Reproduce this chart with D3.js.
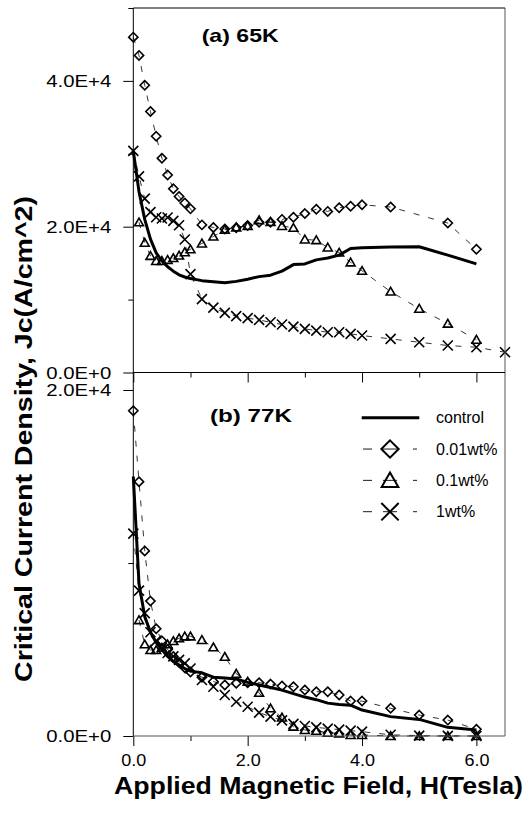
<!DOCTYPE html>
<html>
<head>
<meta charset="utf-8">
<script src="https://cdn.jsdelivr.net/npm/d3@7"></script>
<style>
  html, body { margin: 0; padding: 0; background: #fff; }
  svg { display: block; }
  text { font-family: "Liberation Sans", Arial, Helvetica, sans-serif; fill: #000; }
</style>
</head>
<body>
<svg id="chart" width="526" height="814"></svg>
<script>
// ---------------- DATA ----------------
const fields   = [0,0.1,0.2,0.3,0.4,0.5,0.6,0.7,0.8,0.9,1.0,1.2,1.4,1.6,1.8,2.0,2.2,2.4,2.6,2.8,3.0,3.2,3.4,3.6,3.8,4.0,4.5,5.0,5.5,6.0];
const fieldsX65 = [0,0.1,0.2,0.3,0.4,0.5,0.6,0.7,0.8,0.9,1.0,1.2,1.4,1.6,1.8,2.0,2.2,2.4,2.6,2.8,3.0,3.2,3.4,3.6,3.8,4.0,4.5,5.0,5.5,6.0,6.5];

// (a) 65K
const control65 = [30400,24800,21000,18300,16400,15300,14500,13900,13400,13100,12900,12600,12450,12300,12500,12800,13150,13350,13900,14800,14900,15450,15700,16100,17000,17100,17200,17250,16100,14900];
const dia65     = [46000,43500,39400,35800,32400,29400,27100,25200,24150,23250,22450,20250,19900,19700,19850,20150,20600,20600,21000,21300,21800,22400,22100,22600,22800,23000,22700,null,20500,16900];
const tri65     = [null,20600,17800,16000,15300,15300,15450,15700,16050,16500,16900,17700,18650,19600,19900,20100,20900,20650,20100,19850,18250,18150,17150,16450,15100,13950,11100,8750,6700,4500];
const x65       = [30400,26900,23850,22000,21300,21120,21260,20800,20200,18240,13500,10070,8900,8180,7740,7450,7210,6890,6580,6300,5980,5750,5520,5520,5300,5070,4610,4150,3700,3470,2780];

// (b) 77K
const control77 = [15000,8800,6900,6000,5400,5000,4600,4300,4100,3900,3750,3650,3400,3350,3300,3100,2950,2800,2650,2450,2250,2100,1900,1820,1780,1500,1120,960,500,350];
const dia77     = [18800,14700,10700,7800,6200,5500,5000,4600,4250,3950,3700,3400,3150,2950,3050,3080,3080,3000,2890,2850,2660,2560,2560,2370,2020,2020,1600,1210,920,390];
const tri77     = [null,6700,5300,4970,4970,5100,5300,5490,5650,5760,5760,5550,5130,4580,3600,3140,2500,1600,1070,540,350,300,190,150,60,60,0,0,0,0];
const x77       = [11700,8400,7100,6000,5500,5100,4800,4600,4400,4200,3900,3240,2850,2370,1980,1690,1350,1120,900,700,580,500,430,370,310,250,70,20,10,0];

const legendLabels = ["control","0.01wt%","0.1wt%","1wt%"];
const xTicks = [0,1,2,3,4,5,6];
const yTicksA = [0,10000,20000,30000,40000,50000];
const yTicksB = [0,10000,20000];

// ---------------- LAYOUT ----------------
const svg = d3.select("#chart");
const X0 = 133.3, X1 = 505;
const x = d3.scaleLinear().domain([0, 6.5]).range([X0, X1]);
const yA = d3.scaleLinear().domain([0, 50000]).range([372.5, 8]);
const yB = d3.scaleLinear().domain([0, 20000]).range([736, 390]);

// custom symbols
const symDiamond = { draw(ctx, size) { const r = Math.sqrt(size) / 2; ctx.moveTo(0, -r); ctx.lineTo(r, 0); ctx.lineTo(0, r); ctx.lineTo(-r, 0); ctx.closePath(); } };
const symTriangle = { draw(ctx, size) { const h = Math.sqrt(size); const w = h * 1.15; ctx.moveTo(0, -h * 0.55); ctx.lineTo(w / 2, h * 0.45); ctx.lineTo(-w / 2, h * 0.45); ctx.closePath(); } };
const symX = { draw(ctx, size) { const r = Math.sqrt(size) / 2; ctx.moveTo(-r, -r); ctx.lineTo(r, r); ctx.moveTo(r, -r); ctx.lineTo(-r, r); } };

function pairs(xs, ys) {
  return xs.map((v, i) => [v, ys[i]]).filter(d => d[1] !== null && d[1] !== undefined);
}

function drawPanel(y, series) {
  const g = svg.append("g");
  const line = d3.line().x(d => x(d[0])).y(d => y(d[1]));
  series.forEach(s => {
    const pts = pairs(s.xs, s.ys);
    if (s.type === "control") {
      g.append("path").attr("d", line(pts)).attr("fill", "none")
        .attr("stroke", "#000").attr("stroke-width", 3).attr("stroke-linejoin", "round");
    } else {
      g.append("path").attr("d", line(pts)).attr("fill", "none")
        .attr("stroke", "#000").attr("stroke-width", 0.8).attr("stroke-dasharray", "6,9");
      g.selectAll(null).data(pts).enter().append("path")
        .attr("transform", d => `translate(${x(d[0])},${y(d[1])})`)
        .attr("d", d3.symbol().type(s.sym).size(s.size)())
        .attr("fill", "none").attr("stroke", "#000").attr("stroke-width", 1.6);
    }
  });
}

drawPanel(yA, [
  { type: "control", xs: fields, ys: control65 },
  { type: "m", xs: fields, ys: dia65, sym: symDiamond, size: 85 },
  { type: "m", xs: fields, ys: tri65, sym: symTriangle, size: 60 },
  { type: "m", xs: fieldsX65, ys: x65, sym: symX, size: 100 }
]);
drawPanel(yB, [
  { type: "control", xs: fields, ys: control77 },
  { type: "m", xs: fields, ys: dia77, sym: symDiamond, size: 85 },
  { type: "m", xs: fields, ys: tri77, sym: symTriangle, size: 60 },
  { type: "m", xs: fields, ys: x77, sym: symX, size: 100 }
]);

// ---------------- AXES ----------------
const fmtY = d => d === 0 ? "0.0E+0" : (d / 10000).toFixed(1) + "E+4";
function yAxis(scale, ticks, labelled) {
  const ax = svg.append("g").attr("transform", `translate(${X0},0)`)
    .call(d3.axisLeft(scale).tickValues(ticks).tickSize(10).tickSizeOuter(0)
      .tickFormat(d => labelled.includes(d) ? fmtY(d) : ""));
  ax.select(".domain").remove();
  ax.selectAll(".tick line").attr("stroke", "#000")
    .attr("x2", d => labelled.includes(d) ? -10 : -5);
  ax.selectAll(".tick text").attr("x", -22).attr("font-size", 16)
    .attr("font-family", "Liberation Sans, Arial, sans-serif")
    .attr("textLength", 65).attr("lengthAdjust", "spacingAndGlyphs")
    .attr("dy", "0.36em");
  return ax;
}
yAxis(yA, yTicksA, [0, 20000, 40000]);
yAxis(yB, yTicksB, [0, 20000]);

function xAxis(yPos, labels) {
  const ax = svg.append("g").attr("transform", `translate(0,${yPos})`)
    .call(d3.axisBottom(x).tickValues(xTicks).tickSize(10).tickSizeOuter(0)
      .tickFormat(d => labels && d % 2 === 0 ? d3.format(".1f")(d) : ""));
  ax.select(".domain").remove();
  ax.selectAll(".tick line").attr("stroke", "#000")
    .attr("y2", d => d % 2 === 0 ? 10 : 5);
  ax.selectAll(".tick text").attr("y", 30).attr("dy", 0).attr("font-size", 16)
    .attr("font-family", "Liberation Sans, Arial, sans-serif")
    .attr("textLength", 25).attr("lengthAdjust", "spacingAndGlyphs");
  return ax;
}
xAxis(yA(0), false);
xAxis(yB(0), true);

// frame lines
svg.append("line").attr("x1", X0).attr("x2", X0).attr("y1", yA(50000)).attr("y2", yB(0)).attr("stroke", "#000").attr("stroke-width", 1);
svg.append("line").attr("x1", X1).attr("x2", X1).attr("y1", yA(50000)).attr("y2", yB(0)).attr("stroke", "#555").attr("stroke-width", 1);
svg.append("line").attr("x1", X0).attr("x2", X1).attr("y1", yA(50000)).attr("y2", yA(50000)).attr("stroke", "#000").attr("stroke-width", 1);
svg.append("line").attr("x1", X0).attr("x2", X1).attr("y1", yA(0)).attr("y2", yA(0)).attr("stroke", "#000").attr("stroke-width", 1);
svg.append("line").attr("x1", X0).attr("x2", X1).attr("y1", yB(0)).attr("y2", yB(0)).attr("stroke", "#555").attr("stroke-width", 1);

// ---------------- TEXTS ----------------
svg.append("text").attr("x", 201.7).attr("y", 41.7).attr("font-size", 19).attr("font-weight", "bold")
  .attr("textLength", 77).attr("lengthAdjust", "spacingAndGlyphs").text("(a) 65K");
svg.append("text").attr("x", 210).attr("y", 421.7).attr("font-size", 19).attr("font-weight", "bold")
  .attr("textLength", 82).attr("lengthAdjust", "spacingAndGlyphs").text("(b) 77K");

svg.append("text").attr("x", 318.5).attr("y", 794).attr("text-anchor", "middle")
  .attr("font-size", 23).attr("font-weight", "bold")
  .attr("textLength", 409).attr("lengthAdjust", "spacingAndGlyphs")
  .text("Applied Magnetic Field, H(Tesla)");

svg.append("text").attr("transform", "translate(32,439) rotate(-90)").attr("text-anchor", "middle")
  .attr("font-size", 23).attr("font-weight", "bold")
  .attr("textLength", 486).attr("lengthAdjust", "spacingAndGlyphs")
  .text("Critical Current Density, Jc(A/cm^2)");

// ---------------- LEGEND ----------------
const legY = d3.scaleLinear().domain([0, 3]).range([417.7, 511.7]);
const legSyms = [null, symDiamond, symTriangle, symX];
const legSizes = [0, 300, 210, 300];
const leg = svg.append("g");
legendLabels.forEach((lab, i) => {
  const yy = legY(i);
  if (i === 0) {
    leg.append("line").attr("x1", 361.7).attr("x2", 419.3).attr("y1", yy).attr("y2", yy)
      .attr("stroke", "#000").attr("stroke-width", 3);
  } else {
    leg.append("line").attr("x1", 363).attr("x2", 417).attr("y1", yy).attr("y2", yy)
      .attr("stroke", "#000").attr("stroke-width", 0.9).attr("stroke-dasharray", "9,11,14,16,4");
    leg.append("path").attr("transform", `translate(390,${yy})`)
      .attr("d", d3.symbol().type(legSyms[i]).size(legSizes[i])())
      .attr("fill", "none").attr("stroke", "#000").attr("stroke-width", 2);
  }
  leg.append("text").attr("x", 436).attr("y", yy).attr("dy", "0.36em")
    .attr("font-size", 16).text(lab);
});
</script>
</body>
</html>
